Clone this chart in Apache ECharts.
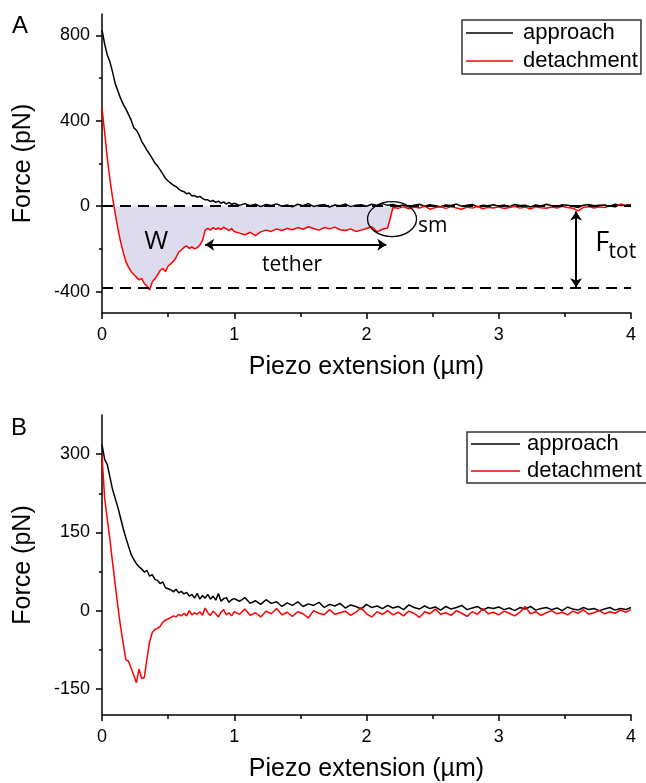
<!DOCTYPE html>
<html><head><meta charset="utf-8">
<script src="https://cdn.jsdelivr.net/npm/echarts@6/dist/echarts.min.js"></script>
<style>html,body{margin:0;padding:0;background:#fff}#c{width:646px;height:783px}</style>
</head><body><div id="c"></div>
<script>
// x grid (µm)
const xs = [0,0.02,0.04,0.06,0.08,0.1,0.12,0.14,0.16,0.18,
0.2,0.22,0.24,0.26,0.28,0.3,0.32,0.34,0.36,0.38,
0.4,0.42,0.44,0.46,0.48,0.5,0.52,0.54,0.56,0.58,
0.6,0.62,0.64,0.66,0.68,0.7,0.72,0.74,0.76,0.78,
0.8,0.82,0.84,0.86,0.88,0.9,0.92,0.94,0.96,0.98,
1,1.04,1.08,1.12,1.16,1.2,1.24,1.28,1.32,1.36,
1.4,1.44,1.48,1.52,1.56,1.6,1.64,1.68,1.72,1.76,
1.8,1.84,1.88,1.92,1.96,2,2.04,2.08,2.12,2.16,
2.2,2.24,2.28,2.32,2.36,2.4,2.44,2.48,2.52,2.56,
2.6,2.64,2.68,2.72,2.76,2.8,2.84,2.88,2.92,2.96,
3,3.04,3.08,3.12,3.16,3.2,3.24,3.28,3.32,3.36,
3.4,3.44,3.48,3.52,3.56,3.6,3.64,3.68,3.72,3.76,
3.8,3.84,3.88,3.92,3.96,4];

// Panel A (pN)
const approachA = [825,760,708,676,628,574,540,506,478,456,
430,404,368,356,334,304,284,262,244,224,
202,188,170,150,130,118,108,98,92,80,
72,68,58,62,48,50,42,46,36,30,
30,22,27,18,24,14,20,10,18,8,
14,4,12,2,9,-2,8,3,11,0,
6,-3,9,2,12,-1,5,8,-4,6,
2,10,-2,5,7,0,9,3,12,4,
8,1,6,-3,5,9,0,7,2,-2,
6,3,10,-1,4,8,-3,5,2,7,
0,6,-2,8,3,5,-4,6,1,9,
2,-1,7,4,0,-6,5,8,2,4,
6,0,9,3,5,8];
const detachA = [460,345,225,125,40,-35,-105,-165,-215,-258,
-285,-305,-320,-332,-345,-338,-362,-374,-392,-355,
-340,-322,-300,-292,-306,-280,-270,-258,-240,-215,
-205,-192,-186,-198,-190,-200,-194,-182,-160,-112,
-104,-112,-100,-108,-102,-110,-98,-106,-114,-104,
-118,-126,-134,-122,-138,-120,-112,-118,-106,-114,
-104,-110,-100,-108,-96,-104,-112,-100,-106,-98,
-110,-114,-106,-118,-112,-104,-96,-120,-108,-102,
-6,-10,-2,-12,-4,-8,0,-14,-6,-3,
-10,-2,-8,-14,-4,-9,0,-12,-5,-8,
-3,-11,-6,0,-9,-4,-13,-2,-7,-10,
-4,-8,0,-6,-10,-22,-5,-2,-8,-3,
-6,2,-4,10,3,6];

// Panel B (pN)
const approachB = [318,290,280,256,232,215,198,178,158,140,
124,108,98,90,84,80,74,77,66,69,
60,58,52,55,44,42,40,36,41,34,
37,32,35,28,31,24,33,22,29,24,
31,22,28,20,33,18,23,25,16,21,
23,18,25,14,19,12,21,14,17,8,
15,10,17,8,13,10,16,6,12,9,
14,5,11,8,3,12,6,9,4,10,
5,8,2,11,6,3,9,4,7,1,
8,3,6,10,2,5,8,1,6,4,
7,2,5,0,6,3,8,1,4,6,
2,5,0,7,3,1,6,2,4,0,
3,6,1,4,2,6];
const detachB = [298,215,175,136,92,50,8,-30,-62,-94,
-97,-110,-124,-138,-112,-130,-128,-92,-60,-42,
-36,-34,-30,-22,-18,-16,-13,-10,-12,-7,
-10,-5,-10,0,-8,-4,-7,-2,-9,5,
-4,-9,-1,-6,-12,-3,2,-8,-4,-10,
-2,-7,3,-9,-4,-12,-1,-6,4,-8,
-3,-11,-2,-6,-14,0,-5,-8,2,-7,
-4,-1,-9,-3,6,-6,-12,-2,-7,0,
-8,-3,-10,-1,-5,-13,-2,-6,3,-7,
-4,-9,0,-5,-11,-2,-7,4,-6,-3,
-8,-1,-5,-10,-3,8,-6,-2,-9,-4,
0,-6,-3,-8,-1,-5,2,-7,-4,0,
-6,-2,-5,1,-3,2];

const xTickLabels = [0,1,2,3,4];
const yTicksA = [-400,0,400,800];
const yMinorA = [-200,200,600];
const yTicksB = [-150,0,150,300];
const yMinorB = [-75,75,225];
const seriesNames = ['approach','detachment'];
const dashLevelsA = [0,-380];
const workRange = [0.08,2.2];
const tetherArrow = [[0.78,-180],[2.15,-180]];
const ftotArrow = [[3.585,-25],[3.585,-380]];

const FONT = "'Liberation Sans', Arial, Helvetica, sans-serif";
const AFONT = "'Open Sans', 'Liberation Sans', sans-serif";

const pairs = (ys) => xs.map((x,i)=>[x, ys[i]]);
const fillA = xs.map((x,i)=>[x, Math.min(detachA[i],0)]).filter(p=>p[0]>=workRange[0] && p[0]<=workRange[1]);

function xAxisCfg(grid){
  return {
    gridIndex: grid, type:'value', min:0, max:4, interval:1,
    axisLine:{show:true, onZero:false, lineStyle:{color:'#000', width:1.5}},
    axisTick:{show:true, length:6, lineStyle:{color:'#000', width:1.5}},
    minorTick:{show:true, splitNumber:2, length:4, lineStyle:{color:'#000', width:1.5}},
    splitLine:{show:false}, minorSplitLine:{show:false},
    axisLabel:{fontSize:18, color:'#000', fontFamily:FONT, margin:13},
    name:'Piezo extension (µm)', nameLocation:'middle', nameGap:42,
    nameTextStyle:{fontSize:25, color:'#000', fontFamily:FONT}
  };
}
function yMajor(grid, min, max, ticks){
  return {
    gridIndex: grid, type:'value', min:min, max:max, position:'left',
    axisLine:{show:true, onZero:false, lineStyle:{color:'#000', width:1.5}},
    axisTick:{show:true, length:6, customValues:ticks, lineStyle:{color:'#000', width:1.5}},
    axisLabel:{customValues:ticks, fontSize:18, color:'#000', fontFamily:FONT, margin:12},
    splitLine:{show:false},
    name:'Force (pN)', nameLocation:'middle', nameGap:66,
    nameTextStyle:{fontSize:25, color:'#000', fontFamily:FONT}
  };
}
function yMinor(grid, min, max, ticks){
  return {
    gridIndex: grid, type:'value', min:min, max:max, position:'left', offset:0,
    axisLine:{show:false},
    axisTick:{show:true, length:3, customValues:ticks, lineStyle:{color:'#000', width:1.5}},
    axisLabel:{show:false}, splitLine:{show:false}
  };
}

const chart = echarts.init(document.getElementById('c'), null, {renderer:'canvas'});
const option = {
  animation:false,
  backgroundColor:'#fff',
  grid:[{left:102, top:14, width:529, height:299},{left:102, top:415, width:529, height:300}],
  xAxis:[xAxisCfg(0), xAxisCfg(1)],
  yAxis:[yMajor(0,-500,900,yTicksA), yMinor(0,-500,900,yMinorA), yMajor(1,-200,375,yTicksB), yMinor(1,-200,375,yMinorB)],
  legend:[
    {data:seriesNames, left:462, top:20, orient:'vertical', icon:'rect', itemWidth:47, itemHeight:1.5, itemGap:6,
     padding:[2,3,2,4], borderColor:'#333', borderWidth:1.5, selectedMode:false,
     textStyle:{fontSize:22, fontFamily:FONT, color:'#000', padding:[0,0,0,5]}},
    {data:seriesNames, left:467, top:432, orient:'vertical', icon:'rect', itemWidth:49, itemHeight:1.5, itemGap:5,
     padding:[1,10,1,4], borderColor:'#333', borderWidth:1.5, selectedMode:false,
     textStyle:{fontSize:22, fontFamily:FONT, color:'#000', padding:[0,0,0,2]}}
  ],
  series:[
    {name:'W', type:'line', xAxisIndex:0, yAxisIndex:0, data:fillA, showSymbol:false, z:1,
     lineStyle:{width:0, opacity:0}, areaStyle:{color:'#dcdcee', opacity:1}, silent:true,
     markLine:{silent:true, symbol:'none', label:{show:false},
       lineStyle:{color:'#000', width:2, type:[11,7]},
       data: dashLevelsA.map(v=>({yAxis:v}))}},
    {name:'approach', type:'line', xAxisIndex:0, yAxisIndex:0, data:pairs(approachA), showSymbol:false, z:3,
     color:'#000', lineStyle:{color:'#000', width:1.5},
     markLine:{silent:true, symbol:['arrow','arrow'], symbolSize:9, label:{show:false},
       lineStyle:{color:'#000', width:2, type:'solid'},
       data:[[{coord:tetherArrow[0]},{coord:tetherArrow[1]}],[{coord:ftotArrow[0]},{coord:ftotArrow[1]}]]}},
    {name:'detachment', type:'line', xAxisIndex:0, yAxisIndex:0, data:pairs(detachA), showSymbol:false, z:4,
     color:'#ff0000', lineStyle:{color:'#ff0000', width:1.5}},
    {name:'approach', type:'line', xAxisIndex:1, yAxisIndex:2, data:pairs(approachB), showSymbol:false, z:3,
     color:'#000', lineStyle:{color:'#000', width:1.5}},
    {name:'detachment', type:'line', xAxisIndex:1, yAxisIndex:2, data:pairs(detachB), showSymbol:false, z:4,
     color:'#ff0000', lineStyle:{color:'#ff0000', width:1.5}}
  ]
};
chart.setOption(option);

// annotations anchored in data coordinates of panel A
const P = (pt) => chart.convertToPixel({xAxisIndex:0, yAxisIndex:0}, pt);
const wPos = P([0.41,-164]);
const tPos = P([1.437,-273]);
const smPos = P([2.39,-94]);
const fPos = P([3.73,-172]);
const totPos = P([3.83,-214]);
const elC = P([2.193,-60]);
chart.setOption({
  graphic:[
    {type:'text', left:12, top:14, style:{text:'A', fontSize:24, fontFamily:FONT, fill:'#000'}},
    {type:'text', left:11, top:416, style:{text:'B', fontSize:24, fontFamily:FONT, fill:'#000'}},
    {type:'text', x:wPos[0], y:wPos[1], z:10, style:{text:'W', fontSize:26, fontFamily:AFONT, fill:'#000', align:'center', verticalAlign:'middle'}},
    {type:'text', x:tPos[0], y:tPos[1], z:10, style:{text:'tether', fontSize:21, fontFamily:AFONT, fill:'#000', align:'center', verticalAlign:'middle'}},
    {type:'text', x:smPos[0], y:smPos[1], z:10, style:{text:'sm', fontSize:21, fontFamily:AFONT, fill:'#000', align:'left', verticalAlign:'middle'}},
    {type:'text', x:fPos[0], y:fPos[1], z:10, style:{text:'F', fontSize:27, fontFamily:AFONT, fill:'#000', align:'left', verticalAlign:'middle'}},
    {type:'text', x:totPos[0], y:totPos[1], z:10, style:{text:'tot', fontSize:21, fontFamily:AFONT, fill:'#000', align:'left', verticalAlign:'middle'}},
    {type:'ellipse', z:10, shape:{cx:elC[0], cy:elC[1], rx:24.5, ry:17.5}, style:{fill:'none', stroke:'#000', lineWidth:1.3}}
  ]
});
</script></body></html>
